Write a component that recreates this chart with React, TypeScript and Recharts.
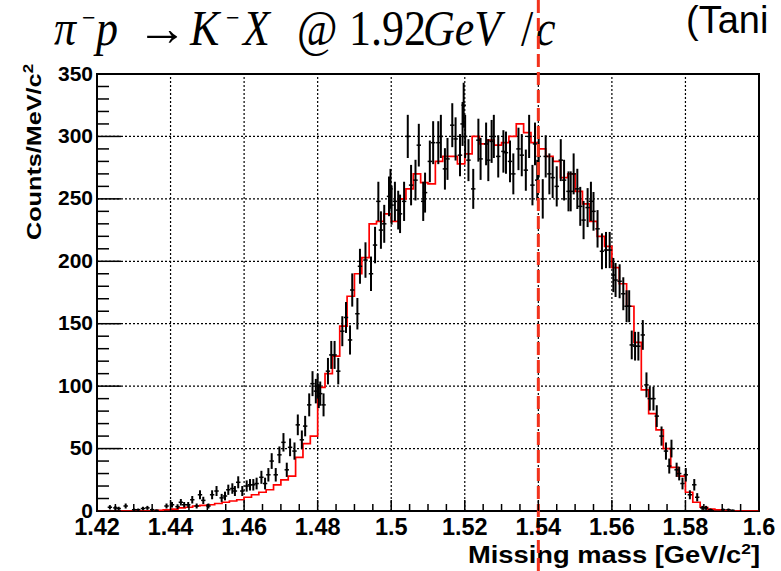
import React from "react";
import {
  ComposedChart, Line, Scatter, ErrorBar, XAxis, YAxis,
  ReferenceLine, ReferenceArea
} from "recharts";

const W = 781;
const H = 571;
const AXIS_H = 40;
const AXIS_W = 50;
const MARGIN = { top: 74, right: 22, bottom: 60 - AXIS_H, left: 97 - AXIS_W };
const SANS = '"Liberation Sans", Arial, sans-serif';
const SERIF = '"Liberation Serif", "Times New Roman", serif';

// axes
const xMajorTicks = [1.42, 1.44, 1.46, 1.48, 1.5, 1.52, 1.54, 1.56, 1.58, 1.6];
const xMinorStep = 0.005;
const yMajorTicks = [0, 50, 100, 150, 200, 250, 300, 350];
const yMinorStep = 10;
const cutMass = 1.54;

// red histogram: 2 MeV bins from 1.42
const binLow = 1.42;
const binWidth = 0.002;
const redCounts = [
  0, 0, 0, 0, 0, 0, 0, 0, 0.5, 1,
  1.5, 2.5, 3, 4, 4.5, 5, 6, 7, 8, 9,
  11, 13, 15, 17, 21, 25, 28, 43, 54, 60,
  99, 110, 124, 148, 172, 190, 203, 230, 232, 238,
  232, 250, 258, 270, 263, 262, 280, 284, 284, 278,
  286, 300, 294, 297, 293, 295, 300, 310, 303, 295,
  290, 284, 280, 267, 270, 256, 246, 232, 220, 212,
  195, 182, 164, 135, 97, 78, 65, 50, 35, 28,
  15, 7, 3, 1.5, 1, 0.5, 0, 0, 0, 0,
];

// data points
const pointMass = [
  1.4235, 1.4250, 1.4259, 1.4278, 1.4301, 1.4312, 1.4325, 1.4337, 1.4350, 1.4362,
  1.4389, 1.4404, 1.4419, 1.4428, 1.4437, 1.4448, 1.4459, 1.4471, 1.4480, 1.4489,
  1.4503, 1.4513, 1.4525, 1.4539, 1.4548, 1.4557, 1.4568, 1.4575, 1.4584, 1.4595,
  1.4607, 1.4616, 1.4625, 1.4634, 1.4647, 1.4657, 1.4666, 1.4675, 1.4686, 1.4696,
  1.4707, 1.4716, 1.4725, 1.4737, 1.4746, 1.4757, 1.4766, 1.4777, 1.4786, 1.4795,
  1.4800, 1.4803, 1.4807, 1.4816, 1.4828, 1.4837, 1.4846, 1.4856, 1.4867, 1.4877,
  1.4888, 1.4894, 1.4908, 1.4915, 1.4930, 1.4945, 1.4956, 1.4965, 1.4972, 1.4981,
  1.4994, 1.4998, 1.5001, 1.5010, 1.5019, 1.5024, 1.5035, 1.5045, 1.5054, 1.5066,
  1.5075, 1.5087, 1.5092, 1.5105, 1.5114, 1.5128, 1.5135, 1.5146, 1.5153, 1.5166,
  1.5175, 1.5187, 1.5194, 1.5197, 1.5201, 1.5210, 1.5223, 1.5237, 1.5243, 1.5258,
  1.5264, 1.5273, 1.5279, 1.5291, 1.5305, 1.5312, 1.5323, 1.5332, 1.5346, 1.5355,
  1.5366, 1.5375, 1.5384, 1.5391, 1.5397, 1.5401, 1.5412, 1.5420, 1.5430, 1.5439,
  1.5450, 1.5461, 1.5470, 1.5482, 1.5488, 1.5496, 1.5506, 1.5514, 1.5523, 1.5534,
  1.5543, 1.5550, 1.5561, 1.5573, 1.5584, 1.5594, 1.5604, 1.5610, 1.5621, 1.5631,
  1.5640, 1.5647, 1.5654, 1.5663, 1.5672, 1.5684, 1.5694, 1.5703, 1.5713, 1.5722,
  1.5735, 1.5747, 1.5756, 1.5762, 1.5776, 1.5783, 1.5792, 1.5801, 1.5812, 1.5824,
  1.5832, 1.5846, 1.5856, 1.5868, 1.5903, 1.5917, 1.5928,
];
const pointCount = [
  3, 2.5, 2, 4, 1, 1, 2, 2.5, 1, 0.5,
  4, 5, 3.5, 7, 5, 5, 9, 4, 13, 8.5,
  4, 13, 16, 10.5, 12, 17, 18, 16, 23, 16,
  20, 21, 21, 22, 27, 22, 29, 40, 29, 45,
  55, 33, 51, 48, 69, 57, 68, 85, 102, 96,
  100, 92, 94, 85, 112, 125, 125, 112, 144, 155,
  137, 177, 158, 196, 201, 190, 213, 248, 225, 230,
  252, 258, 245, 248, 241, 238, 248, 300, 261, 265,
  293, 248, 255, 280, 295, 295, 300, 274, 282, 309,
  298, 285, 310, 325, 300, 281, 258, 297, 282, 294,
  281, 296, 300, 284, 288, 287, 280, 270, 290, 285,
  273, 300, 261, 294, 265, 284, 250, 284, 270, 267,
  260, 281, 265, 256, 256, 270, 258, 244, 233, 243,
  248, 240, 226, 208, 209, 209, 189, 185, 184, 174,
  164, 164, 133, 132, 132, 141, 101, 90, 90, 76,
  60, 48, 36, 50, 33, 30, 22, 29, 13, 21,
  11, 2.5, 2.5, 1, 1, 1, 0.5,
];
const pointErr = [
  1.7, 1.6, 1.4, 2, 1, 1, 1.4, 1.6, 1, 0.7,
  2, 2.2, 1.9, 2.6, 2.2, 2.2, 3, 2, 3.6, 2.9,
  2, 3.6, 4, 3.2, 3.5, 4.1, 4.2, 4, 4.8, 4,
  4.5, 4.6, 4.6, 4.7, 5.2, 4.7, 5.4, 6.3, 5.4, 6.7,
  7.4, 5.7, 7.1, 6.9, 8.3, 7.5, 8.2, 9.2, 10, 9.8,
  10, 9.6, 9.7, 9.2, 10.6, 11.2, 11.2, 10.6, 12, 12.4,
  11.7, 13.3, 12.6, 14, 14.2, 13.8, 14.6, 15.7, 15, 15.2,
  15.9, 16, 15.7, 15.7, 15.5, 15.4, 15.7, 17.3, 16.2, 16.3,
  17.1, 15.7, 16, 16.7, 17.2, 17.2, 17.3, 16.6, 16.8, 17.6,
  17.3, 16.9, 17.6, 18, 17.3, 16.8, 16, 17.2, 16.8, 17.1,
  16.8, 17.2, 17.3, 16.9, 17, 16.9, 16.7, 16.4, 17, 16.9,
  16.5, 17.3, 16.2, 17.1, 16.3, 16.9, 15.8, 16.9, 16.4, 16.3,
  16.1, 16.8, 16.3, 16, 16, 16.4, 16.1, 15.6, 15.3, 15.6,
  15.7, 15.5, 15, 14.4, 14.5, 14.5, 13.7, 13.6, 13.6, 13.2,
  12.8, 12.8, 11.5, 11.5, 11.5, 11.9, 10, 9.5, 9.5, 8.7,
  7.7, 6.9, 6, 7.1, 5.7, 5.5, 4.7, 5.4, 3.6, 4.6,
  3.3, 1.6, 1.6, 1, 1, 1, 0.7,
];
const pointHalfWidth = 0.0006;

const xDomain = [xMajorTicks[0], xMajorTicks[xMajorTicks.length - 1]];
const yDomain = [yMajorTicks[0], yMajorTicks[yMajorTicks.length - 1]];

function stepTicks(lo: number, hi: number, step: number) {
  const out: number[] = [];
  for (let v = lo; v <= hi + step / 10; v += step) out.push(Math.round(v * 10000) / 10000);
  return out;
}
const xTicks = stepTicks(xDomain[0], xDomain[1], xMinorStep);
const yTicks = stepTicks(yDomain[0], yDomain[1], yMinorStep);
const isMajor = (list: number[], v: number) => list.some((t) => Math.abs(t - v) < 1e-6);

const redStep = redCounts.map((c, i) => ({ m: binLow + i * binWidth, v: c }));
redStep.push({ m: binLow + redCounts.length * binWidth, v: redCounts[redCounts.length - 1] });

const points = pointMass.map((m, i) => ({
  m, v: pointCount[i], err: pointErr[i], xerr: pointHalfWidth,
}));

// ticks drawn inside the frame, ROOT style
function XTick({ x, y, payload }: any) {
  const major = isMajor(xMajorTicks, payload.value);
  return (
    <g>
      <line x1={x} x2={x} y1={y} y2={y - (major ? 11 : 7)} stroke="#000" strokeWidth={1.5} />
      {major && (
        <text x={x} y={y + 24} textAnchor="middle" fontFamily={SANS} fontWeight={700} fontSize={23.5} fill="#000">
          {String(payload.value)}
        </text>
      )}
    </g>
  );
}

function YTick({ x, y, payload }: any) {
  const major = isMajor(yMajorTicks, payload.value);
  return (
    <g>
      <line x1={x} x2={x + (major ? 24 : 12)} y1={y} y2={y} stroke="#000" strokeWidth={1.5} />
      {major && (
        <text x={x - 4} y={y + 6.5} textAnchor="end" fontFamily={SANS} fontWeight={700} fontSize={21} fill="#000">
          {String(payload.value)}
        </text>
      )}
    </g>
  );
}

const grid = { stroke: "#000", strokeWidth: 1.2, strokeDasharray: "2 2" };

export default function App() {
  return (
    <div style={{ position: "relative", width: W, height: H, overflow: "hidden", background: "#fff" }}>
      <style>{"body{margin:0}"}</style>
      <svg width={W} height={H} style={{ position: "absolute", left: 0, top: 0 }}>
        <g transform="matrix(1,0,0,1.15,0,-7)" fontFamily={SERIF} fontSize={44} fill="#000">
          <text x={54} y={45}>
            <tspan fontStyle="italic">π</tspan>
            <tspan x={82} dy={-15} fontSize={24}>−</tspan>
            <tspan x={96} dy={15} fontStyle="italic">p</tspan>
          </text>
          <text transform="translate(137,45) scale(1.15,1)">→</text>
          <text x={190} y={45}>
            <tspan fontStyle="italic">K</tspan>
            <tspan x={226} dy={-15} fontSize={24}>−</tspan>
            <tspan x={243} dy={15} fontStyle="italic">X</tspan>
            <tspan x={297}>@</tspan>
            <tspan x={349}>1.92</tspan>
            <tspan x={423} fontStyle="italic">GeV</tspan>
            <tspan x={521}>/</tspan>
            <tspan x={536} fontStyle="italic">c</tspan>
          </text>
        </g>
        <text x={686} y={33} fontFamily={SANS} fontSize={38} fill="#000">(Tani</text>
        <text
          transform="translate(41, 64) rotate(-90)"
          textAnchor="end" fontFamily={SANS} fontWeight={700} fontSize={21} fill="#000"
          textLength={176} lengthAdjust="spacingAndGlyphs"
        >
          Counts/MeV/c<tspan dy={-8} fontSize={14}>2</tspan>
        </text>
        <text
          x={760} y={563} textAnchor="end" fontFamily={SANS} fontWeight={700} fontSize={23.5} fill="#000"
          textLength={292} lengthAdjust="spacingAndGlyphs"
        >
          Missing mass [GeV/c<tspan dy={-9} fontSize={15}>2</tspan><tspan dy={9}>]</tspan>
        </text>
      </svg>
      <div style={{ position: "absolute", left: 0, top: 0 }}>
        <ComposedChart width={W} height={H} margin={MARGIN}>
          <XAxis
            type="number" dataKey="m" domain={xDomain} allowDataOverflow
            ticks={xTicks} interval={0} height={AXIS_H} tickSize={0} tickMargin={0}
            tickLine={false} axisLine={false} tick={<XTick />}
          />
          <YAxis
            type="number" domain={yDomain} allowDataOverflow
            ticks={yTicks} interval={0} width={AXIS_W} tickSize={0} tickMargin={0}
            tickLine={false} axisLine={false} tick={<YTick />}
          />
          {xMajorTicks.slice(1, -1).map((t) => (
            <ReferenceLine key={"gx" + t} x={t} {...grid} />
          ))}
          {yMajorTicks.slice(1, -1).map((t) => (
            <ReferenceLine key={"gy" + t} y={t} {...grid} />
          ))}
          <Line
            data={redStep} dataKey="v" type="stepAfter" stroke="#ff0000" strokeWidth={1.7}
            dot={false} activeDot={false} isAnimationActive={false}
          />
          <Scatter data={points} dataKey="v" shape={() => <g />} isAnimationActive={false}>
            <ErrorBar dataKey="err" direction="y" width={0} stroke="#000" strokeWidth={2} isAnimationActive={false} />
            <ErrorBar dataKey="xerr" direction="x" width={0} stroke="#000" strokeWidth={1.5} isAnimationActive={false} />
          </Scatter>
          <ReferenceArea
            x1={xDomain[0]} x2={xDomain[1]} y1={yDomain[0]} y2={yDomain[1]}
            fill="none" fillOpacity={0} stroke="#000" strokeWidth={2} ifOverflow="visible"
          />
          <ReferenceLine
            x={cutMass}
            shape={(p: any) => (
              <line x1={p.x1} x2={p.x2} y1={0} y2={H} stroke="#f2321c" strokeWidth={3} strokeDasharray="13 5" />
            )}
          />
        </ComposedChart>
      </div>
    </div>
  );
}
